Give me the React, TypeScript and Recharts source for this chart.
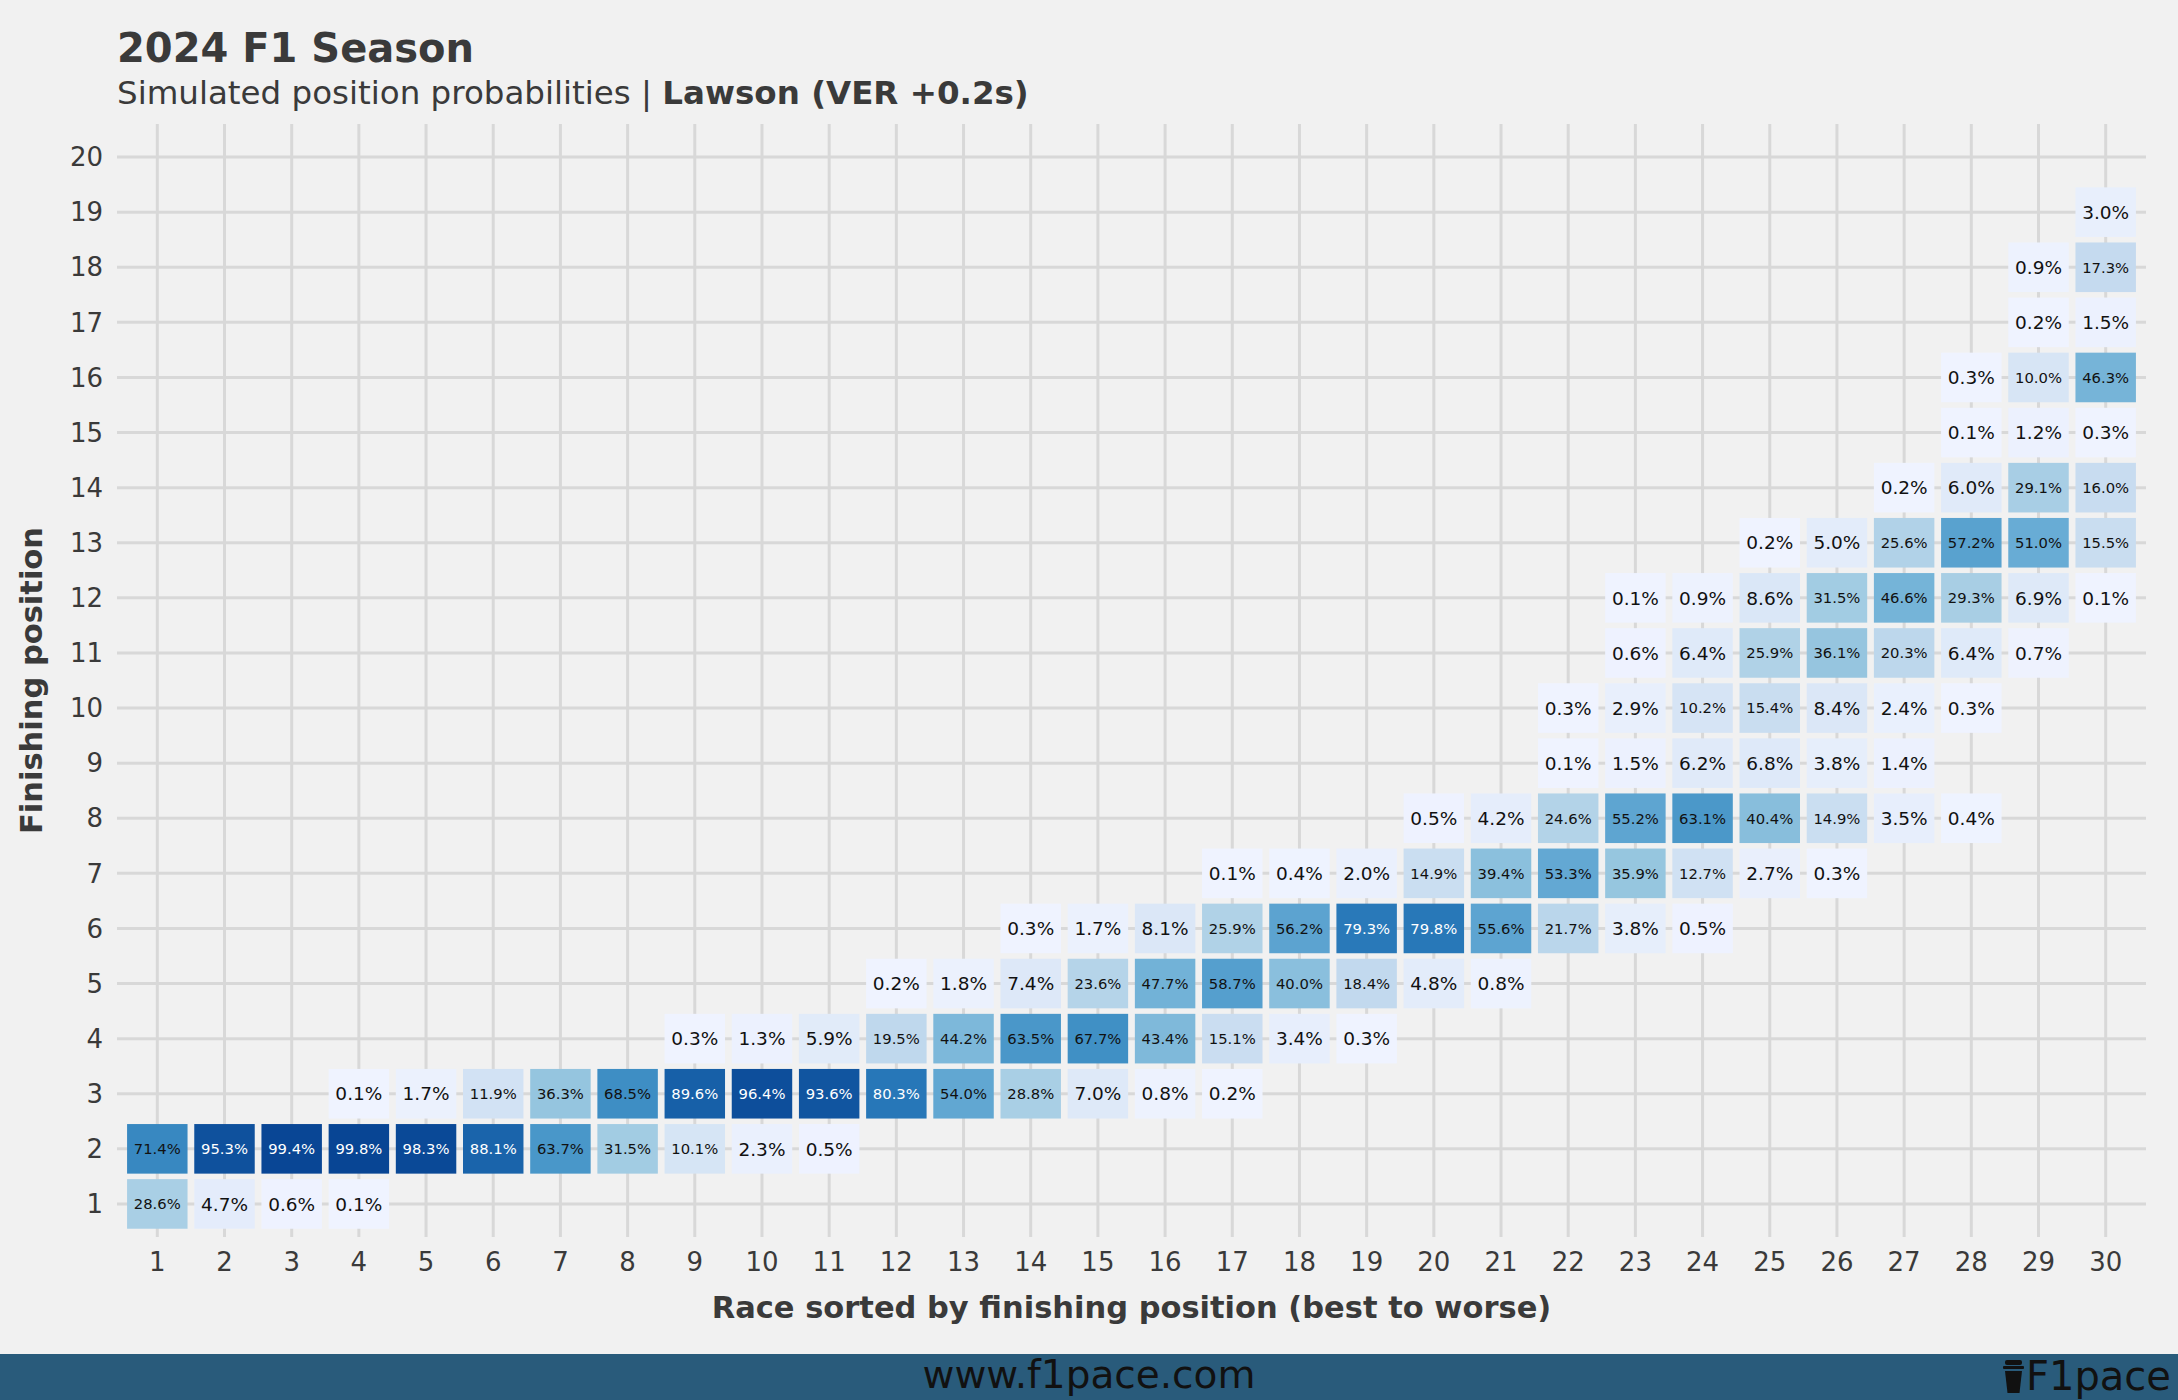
import { ScatterChart, Scatter, XAxis, YAxis, CartesianGrid } from "recharts";

const _ = null;

// finishing position probabilities (%), one array per finishing position, one entry per race (1..30)
const pos1 = [28.6, 4.7, 0.6, 0.1, _, _, _, _, _, _, _, _, _, _, _, _, _, _, _, _, _, _, _, _, _, _, _, _, _, _];
const pos2 = [71.4, 95.3, 99.4, 99.8, 98.3, 88.1, 63.7, 31.5, 10.1, 2.3, 0.5, _, _, _, _, _, _, _, _, _, _, _, _, _, _, _, _, _, _, _];
const pos3 = [_, _, _, 0.1, 1.7, 11.9, 36.3, 68.5, 89.6, 96.4, 93.6, 80.3, 54.0, 28.8, 7.0, 0.8, 0.2, _, _, _, _, _, _, _, _, _, _, _, _, _];
const pos4 = [_, _, _, _, _, _, _, _, 0.3, 1.3, 5.9, 19.5, 44.2, 63.5, 67.7, 43.4, 15.1, 3.4, 0.3, _, _, _, _, _, _, _, _, _, _, _];
const pos5 = [_, _, _, _, _, _, _, _, _, _, _, 0.2, 1.8, 7.4, 23.6, 47.7, 58.7, 40.0, 18.4, 4.8, 0.8, _, _, _, _, _, _, _, _, _];
const pos6 = [_, _, _, _, _, _, _, _, _, _, _, _, _, 0.3, 1.7, 8.1, 25.9, 56.2, 79.3, 79.8, 55.6, 21.7, 3.8, 0.5, _, _, _, _, _, _];
const pos7 = [_, _, _, _, _, _, _, _, _, _, _, _, _, _, _, _, 0.1, 0.4, 2.0, 14.9, 39.4, 53.3, 35.9, 12.7, 2.7, 0.3, _, _, _, _];
const pos8 = [_, _, _, _, _, _, _, _, _, _, _, _, _, _, _, _, _, _, _, 0.5, 4.2, 24.6, 55.2, 63.1, 40.4, 14.9, 3.5, 0.4, _, _];
const pos9 = [_, _, _, _, _, _, _, _, _, _, _, _, _, _, _, _, _, _, _, _, _, 0.1, 1.5, 6.2, 6.8, 3.8, 1.4, _, _, _];
const pos10 = [_, _, _, _, _, _, _, _, _, _, _, _, _, _, _, _, _, _, _, _, _, 0.3, 2.9, 10.2, 15.4, 8.4, 2.4, 0.3, _, _];
const pos11 = [_, _, _, _, _, _, _, _, _, _, _, _, _, _, _, _, _, _, _, _, _, _, 0.6, 6.4, 25.9, 36.1, 20.3, 6.4, 0.7, _];
const pos12 = [_, _, _, _, _, _, _, _, _, _, _, _, _, _, _, _, _, _, _, _, _, _, 0.1, 0.9, 8.6, 31.5, 46.6, 29.3, 6.9, 0.1];
const pos13 = [_, _, _, _, _, _, _, _, _, _, _, _, _, _, _, _, _, _, _, _, _, _, _, _, 0.2, 5.0, 25.6, 57.2, 51.0, 15.5];
const pos14 = [_, _, _, _, _, _, _, _, _, _, _, _, _, _, _, _, _, _, _, _, _, _, _, _, _, _, 0.2, 6.0, 29.1, 16.0];
const pos15 = [_, _, _, _, _, _, _, _, _, _, _, _, _, _, _, _, _, _, _, _, _, _, _, _, _, _, _, 0.1, 1.2, 0.3];
const pos16 = [_, _, _, _, _, _, _, _, _, _, _, _, _, _, _, _, _, _, _, _, _, _, _, _, _, _, _, 0.3, 10.0, 46.3];
const pos17 = [_, _, _, _, _, _, _, _, _, _, _, _, _, _, _, _, _, _, _, _, _, _, _, _, _, _, _, _, 0.2, 1.5];
const pos18 = [_, _, _, _, _, _, _, _, _, _, _, _, _, _, _, _, _, _, _, _, _, _, _, _, _, _, _, _, 0.9, 17.3];
const pos19 = [_, _, _, _, _, _, _, _, _, _, _, _, _, _, _, _, _, _, _, _, _, _, _, _, _, _, _, _, _, 3.0];
const pos20: (number | null)[] = [];

const rows = [pos1, pos2, pos3, pos4, pos5, pos6, pos7, pos8, pos9, pos10, pos11, pos12, pos13, pos14, pos15, pos16, pos17, pos18, pos19, pos20];

const raceTicks = Array.from({ length: 30 }, (_v, i) => i + 1);
const positionTicks = Array.from({ length: 20 }, (_v, i) => i + 1);

const cells = rows.flatMap((row, pi) =>
  row.flatMap((p, ri) => (p == null ? [] : [{ race: ri + 1, position: pi + 1, p }]))
);

// Blues (7) distiller scale
const BLUES = ["#eff3ff", "#c6dbef", "#9ecae1", "#6baed6", "#4292c6", "#2171b5", "#084594"];
const P_MIN = 0.1;
const P_MAX = 99.8;

const hex = (c: string) => [1, 3, 5].map((i) => parseInt(c.slice(i, i + 2), 16));
function fillFor(p: number) {
  const t = Math.max(0, Math.min(1, (p - P_MIN) / (P_MAX - P_MIN))) * (BLUES.length - 1);
  const i = Math.min(BLUES.length - 2, Math.floor(t));
  const f = t - i;
  const a = hex(BLUES[i]);
  const b = hex(BLUES[i + 1]);
  const m = a.map((v, k) => Math.round(v + (b[k] - v) * f));
  return `rgb(${m[0]},${m[1]},${m[2]})`;
}

const W = 2178;
const H = 1400;
const MARGIN = { top: 124, right: 32, bottom: 133, left: 57 };
const X_AXIS_H = 30;
const Y_AXIS_W = 60;
const X_DOMAIN: [number, number] = [0.4, 30.6];
const Y_DOMAIN: [number, number] = [0.4, 20.6];
const PLOT_W = W - MARGIN.left - MARGIN.right - Y_AXIS_W;
const PLOT_H = H - MARGIN.top - MARGIN.bottom - X_AXIS_H;
const TILE_W = (0.9 * PLOT_W) / (X_DOMAIN[1] - X_DOMAIN[0]);
const TILE_H = (0.9 * PLOT_H) / (Y_DOMAIN[1] - Y_DOMAIN[0]);

const FONT = "'DejaVu Sans', sans-serif";
const INK = "#3a3a3a";

// shrink label font so every label spans the same width
const charEm = (ch: string) => (ch === "." ? 0.318 : ch === "%" ? 0.95 : 0.636);
const labelSize = (s: string) => 47 / s.split("").reduce((a, c) => a + charEm(c), 0);

function Tile(props: any) {
  const { cx, cy, payload } = props;
  if (cx == null || cy == null) return null;
  const label = `${payload.p.toFixed(1)}%`;
  return (
    <g>
      <rect x={cx - TILE_W / 2} y={cy - TILE_H / 2} width={TILE_W} height={TILE_H} fill={fillFor(payload.p)} />
      <text
        x={cx}
        y={cy}
        dy="0.36em"
        textAnchor="middle"
        fontFamily={FONT}
        fontSize={labelSize(label)}
        fill={payload.p > 75 ? "#ffffff" : "#111111"}
      >
        {label}
      </text>
    </g>
  );
}

// grid only at the tick values, not on the panel edges
const gridX = (props: any) => {
  const o = props.offset ?? { left: MARGIN.left + Y_AXIS_W, width: PLOT_W };
  return raceTicks.map((t) => o.left + ((t - X_DOMAIN[0]) / (X_DOMAIN[1] - X_DOMAIN[0])) * o.width);
};
const gridY = (props: any) => {
  const o = props.offset ?? { top: MARGIN.top, height: PLOT_H };
  return positionTicks.map((t) => o.top + ((Y_DOMAIN[1] - t) / (Y_DOMAIN[1] - Y_DOMAIN[0])) * o.height);
};

export default function App() {
  return (
    <div style={{ position: "absolute", left: 0, top: 0, width: W, height: H, background: "#f1f1f1", overflow: "hidden" }}>
      <ScatterChart width={W} height={H} margin={MARGIN}>
        <CartesianGrid
          stroke="#d8d8d8"
          strokeWidth={3}
          verticalCoordinatesGenerator={gridX}
          horizontalCoordinatesGenerator={gridY}
        />
        <XAxis
          type="number"
          dataKey="race"
          domain={X_DOMAIN}
          ticks={raceTicks}
          interval={0}
          height={X_AXIS_H}
          axisLine={false}
          tickLine={false}
          tickSize={0}
          tickMargin={16}
          tick={{ fontSize: 26, fontFamily: FONT, fill: INK }}
          label={{
            value: "Race sorted by finishing position (best to worse)",
            position: "bottom",
            offset: 29,
            fontSize: 30.5,
            fontWeight: "bold",
            fontFamily: FONT,
            fill: INK,
          }}
        />
        <YAxis
          type="number"
          dataKey="position"
          domain={Y_DOMAIN}
          ticks={positionTicks}
          interval={0}
          width={Y_AXIS_W}
          axisLine={false}
          tickLine={false}
          tickSize={0}
          tickMargin={14}
          tick={{ fontSize: 26, fontFamily: FONT, fill: INK }}
          label={{
            value: "Finishing position",
            angle: -90,
            position: "left",
            offset: 26,
            fontSize: 30.5,
            fontWeight: "bold",
            fontFamily: FONT,
            fill: INK,
            style: { textAnchor: "middle" },
          }}
        />
        <Scatter data={cells} shape={Tile} isAnimationActive={false} />
      </ScatterChart>

      <svg width={W} height={H} style={{ position: "absolute", left: 0, top: 0, pointerEvents: "none" }}>
        <text x={117} y={62} fontFamily={FONT} fontWeight="bold" fontSize={40} fill={INK}>
          2024 F1 Season
        </text>
        <text x={117} y={104} fontFamily={FONT} fontSize={32.5} fill={INK}>
          Simulated position probabilities | <tspan fontWeight="bold">Lawson (VER +0.2s)</tspan>
        </text>

        <rect x={0} y={1354} width={W} height={46} fill="#295b7b" />
        <text x={1089} y={1388} textAnchor="middle" fontFamily={FONT} fontSize={39} fill="#111111">
          www.f1pace.com
        </text>
        <g fill="#111111">
          <rect x={2005} y={1360} width={17} height={5} rx={2} />
          <rect x={2003} y={1366} width={21} height={3} rx={1} />
          <path d="M2005 1371 L2022 1371 L2019.5 1393 L2007.5 1393 Z" />
        </g>
        <text x={2026} y={1390} fontFamily={FONT} fontSize={40} fill="#111111">
          F1pace
        </text>
      </svg>
    </div>
  );
}
